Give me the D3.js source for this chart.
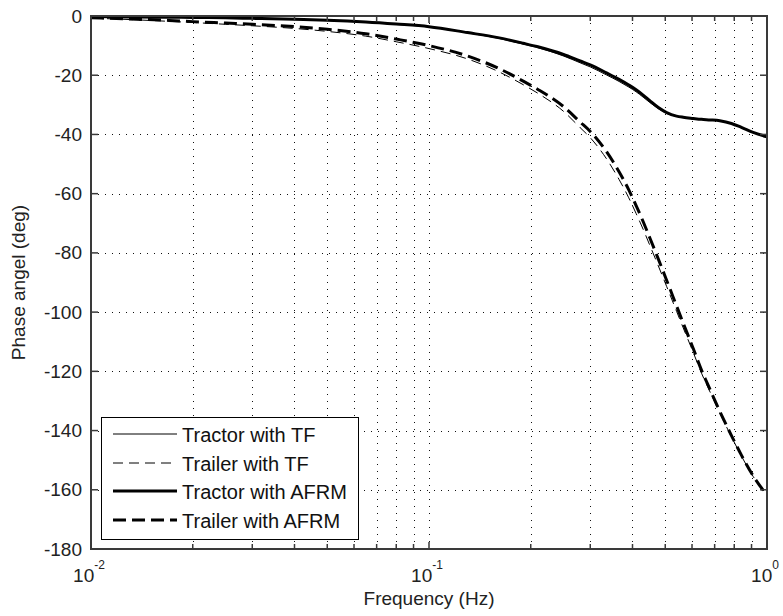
<!DOCTYPE html>
<html>
<head>
<meta charset="utf-8">
<script src="https://cdn.jsdelivr.net/npm/d3@7"></script>
<style>
  html, body { margin: 0; padding: 0; background: #fff; }
  svg { display: block; font-family: "Liberation Sans", Arial, Helvetica, sans-serif; }
</style>
</head>
<body>
<svg id="chart" width="783" height="616"></svg>
<script>
// Frequency samples (Hz) shared by all four responses
const freq = [0.01, 0.013, 0.017, 0.02, 0.025, 0.03, 0.04, 0.05, 0.065, 0.08, 0.1,
  0.13, 0.16, 0.19, 0.21, 0.25, 0.28, 0.3, 0.335, 0.365, 0.39, 0.41, 0.43, 0.45,
  0.477, 0.505, 0.54, 0.565, 0.605, 0.64, 0.68, 0.725, 0.785, 0.84, 0.91, 1.0];

// Phase angle (deg)
const tractorTF = [-0.2, -0.3, -0.4, -0.5, -0.6, -0.8, -1.1, -1.5, -2.1, -2.8, -3.7,
  -5.7, -7.5, -9.5, -10.7, -13.5, -15.8, -17.2, -19.9, -22.1, -24.0, -25.6, -27.4, -29.2,
  -31.3, -32.9, -33.9, -34.2, -34.6, -34.9, -35.1, -35.4, -36.2, -37.5, -39.2, -40.6];
const trailerTF = [-0.7, -1.2, -1.8, -2.2, -2.8, -3.3, -4.2, -5.2, -6.8, -8.7, -11.0,
  -14.5, -18.7, -23.2, -26.1, -32.2, -37.7, -41.1, -48.2, -55.2, -61.4, -66.7, -72.0, -77.4,
  -84.4, -91.4, -99.7, -105.3, -113.6, -120.6, -127.2, -134.1, -142.1, -148.6, -155.5, -161.9];
const tractorAFRM = [-0.2, -0.3, -0.4, -0.5, -0.6, -0.8, -1.1, -1.4, -2.0, -2.7, -3.6,
  -5.6, -7.3, -9.2, -10.4, -13.0, -15.2, -16.5, -19.2, -21.4, -23.3, -24.9, -26.7, -28.6,
  -30.9, -32.6, -33.8, -34.2, -34.6, -34.9, -35.1, -35.4, -36.3, -37.6, -39.3, -40.8];
const trailerAFRM = [-0.6, -1.0, -1.5, -1.9, -2.4, -2.8, -3.6, -4.5, -6.0, -7.8, -10.0,
  -13.5, -17.6, -22.0, -24.8, -30.6, -35.8, -39.0, -45.8, -52.6, -58.7, -64.0, -69.4, -74.9,
  -82.1, -89.3, -97.9, -103.7, -112.3, -119.6, -126.4, -133.5, -141.7, -148.3, -155.3, -161.8];

const seriesNames = ["Tractor with TF", "Trailer with TF", "Tractor with AFRM", "Trailer with AFRM"];
const seriesValues = [tractorTF, trailerTF, tractorAFRM, trailerAFRM];

const yTicks = [0, -20, -40, -60, -80, -100, -120, -140, -160, -180];
const xMajor = [0.01, 0.1, 1];
const xExponents = ["-2", "-1", "0"];

const xLabel = "Frequency (Hz)";
const yLabel = "Phase angel (deg)";

// Line styles per series
const styles = [
  { width: 1, dash: null },
  { width: 1, dash: "10,6" },
  { width: 3, dash: null },
  { width: 3, dash: "13,6" }
];

const svg = d3.select("#chart");
const plot = { left: 91, right: 767, top: 16, bottom: 549 };

const x = d3.scaleLog().domain([0.01, 1]).range([plot.left, plot.right]);
const y = d3.scaleLinear().domain([-180, 0]).range([plot.bottom, plot.top]);

// minor ticks: 2..9 in each decade
const xMinor = [];
[0.01, 0.1].forEach(d => { for (let k = 2; k <= 9; k++) xMinor.push(d * k); });

const gridColor = "#111";
const grid = svg.append("g");
// vertical dotted grid at major + minor positions
xMinor.concat(xMajor.slice(1, 2)).forEach(f => {
  grid.append("line")
    .attr("x1", Math.round(x(f)) + 0.5).attr("x2", Math.round(x(f)) + 0.5)
    .attr("y1", plot.top).attr("y2", plot.bottom)
    .attr("stroke", gridColor).attr("stroke-width", 1)
    .attr("stroke-dasharray", "1,6");
});
// horizontal dotted grid
yTicks.slice(1, -1).forEach(t => {
  grid.append("line")
    .attr("x1", plot.left).attr("x2", plot.right)
    .attr("y1", Math.round(y(t)) + 0.5).attr("y2", Math.round(y(t)) + 0.5)
    .attr("stroke", gridColor).attr("stroke-width", 1)
    .attr("stroke-dasharray", "1,6");
});

// curves
svg.append("defs").append("clipPath").attr("id", "plotClip")
  .append("rect").attr("x", plot.left).attr("y", plot.top - 2)
  .attr("width", plot.right - plot.left).attr("height", plot.bottom - plot.top + 2);

const line = d3.line()
  .x(d => x(d[0]))
  .y(d => y(d[1]))
  .curve(d3.curveMonotoneX);

const curves = svg.append("g").attr("clip-path", "url(#plotClip)");
seriesValues.forEach((vals, i) => {
  const pts = freq.map((f, j) => [f, vals[j]]);
  curves.append("path")
    .attr("d", line(pts))
    .attr("fill", "none")
    .attr("stroke", "#000")
    .attr("stroke-width", styles[i].width)
    .attr("stroke-dasharray", styles[i].dash)
    .attr("stroke-linejoin", "round");
});

// axes box and ticks
const axisColor = "#3a3a3a";
const axes = svg.append("g");
axes.append("rect")
  .attr("x", plot.left).attr("y", plot.top)
  .attr("width", plot.right - plot.left).attr("height", plot.bottom - plot.top)
  .attr("fill", "none").attr("stroke", axisColor).attr("stroke-width", 2);

const majorLen = 7, minorLen = 5;
function vTick(px, len) {
  axes.append("line").attr("x1", px).attr("x2", px)
    .attr("y1", plot.bottom).attr("y2", plot.bottom - len)
    .attr("stroke", axisColor).attr("stroke-width", 1.5);
  axes.append("line").attr("x1", px).attr("x2", px)
    .attr("y1", plot.top).attr("y2", plot.top + len)
    .attr("stroke", axisColor).attr("stroke-width", 1.5);
}
xMajor.forEach(f => vTick(x(f), majorLen));
xMinor.forEach(f => vTick(x(f), minorLen));
yTicks.forEach(t => {
  axes.append("line").attr("x1", plot.left).attr("x2", plot.left + majorLen)
    .attr("y1", y(t)).attr("y2", y(t))
    .attr("stroke", axisColor).attr("stroke-width", 1.5);
  axes.append("line").attr("x1", plot.right).attr("x2", plot.right - majorLen)
    .attr("y1", y(t)).attr("y2", y(t))
    .attr("stroke", axisColor).attr("stroke-width", 1.5);
});

// tick labels
const labels = svg.append("g").attr("fill", "#222");
yTicks.forEach(t => {
  labels.append("text")
    .attr("x", plot.left - 9).attr("y", y(t))
    .attr("text-anchor", "end").attr("dominant-baseline", "central")
    .attr("font-size", 19)
    .text(t);
});
xMajor.forEach((f, i) => {
  const t = labels.append("text")
    .attr("x", x(f) - 2).attr("y", 582)
    .attr("text-anchor", "middle")
    .attr("font-size", 19);
  t.append("tspan").text("10");
  t.append("tspan").attr("font-size", 12).attr("dy", -13).text(xExponents[i]);
});

// axis titles
labels.append("text")
  .attr("x", (plot.left + plot.right) / 2).attr("y", 605)
  .attr("text-anchor", "middle").attr("font-size", 19)
  .text(xLabel);
labels.append("text")
  .attr("transform", `translate(25,${(plot.top + plot.bottom) / 2}) rotate(-90)`)
  .attr("text-anchor", "middle").attr("font-size", 19)
  .text(yLabel);

// legend
const legend = svg.append("g");
legend.append("rect")
  .attr("x", 101.5).attr("y", 417.5).attr("width", 257).attr("height", 122)
  .attr("fill", "#fff").attr("stroke", "#000").attr("stroke-width", 1);
const rowY = [434, 463, 491, 520];
seriesNames.forEach((name, i) => {
  legend.append("line")
    .attr("x1", 113).attr("x2", 177)
    .attr("y1", rowY[i]).attr("y2", rowY[i])
    .attr("stroke", "#000")
    .attr("stroke-width", styles[i].width)
    .attr("stroke-dasharray", styles[i].dash);
  legend.append("text")
    .attr("x", 182).attr("y", rowY[i] + 7.5)
    .attr("font-size", 20).attr("fill", "#111")
    .text(name);
});
</script>
</body>
</html>
